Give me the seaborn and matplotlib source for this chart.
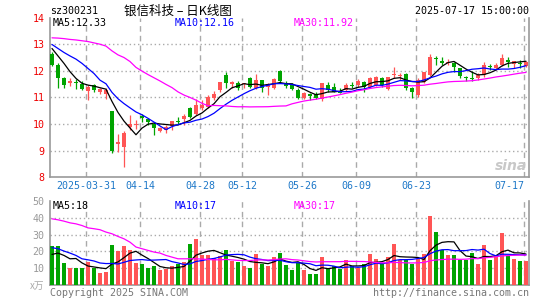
import numpy as np
import pandas as pd
import matplotlib
matplotlib.use("Agg")
import matplotlib.pyplot as plt
import seaborn as sns

# trading days shown on the chart (holidays taken out)
holidays = ["2025-04-04", "2025-05-01", "2025-05-02", "2025-05-05", "2025-06-02"]
days = pd.bdate_range("2025-03-21", "2025-07-17")
days = days[~days.isin(pd.to_datetime(holidays))]

tick_dates = ["2025-03-31", "2025-04-14", "2025-04-28", "2025-05-12",
              "2025-05-26", "2025-06-09", "2025-06-23", "2025-07-17"]
tick_labels = ["2025-03-31", "04-14", "04-28", "05-12", "05-26", "06-09", "06-23", "07-17"]

# daily prices
open_ = [12.65, 12.22, 11.74, 11.55, 11.58, 11.52, 11.25, 11.46, 11.19, 11.12,
         10.49, 9.24, 9.12, 9.89, 9.98, 10.30, 10.19, 10.00, 9.74, 9.78,
         9.94, 10.12, 10.19, 10.59, 10.38, 10.62, 10.65, 10.97, 11.28, 11.86,
         11.52, 11.55, 11.49, 11.74, 11.34, 11.65, 11.40, 11.34, 12.00, 11.56,
         11.49, 11.28, 10.97, 11.12, 11.12, 10.94, 11.46, 11.39, 11.24, 11.28,
         11.47, 11.46, 11.59, 11.40, 11.46, 11.74, 11.32, 11.84, 11.82, 11.87,
         11.34, 11.09, 11.59, 11.84, 12.46, 12.36, 12.28, 12.28, 12.09, 11.76,
         11.74, 11.72, 11.84, 12.19, 12.09, 12.22, 12.40, 12.27, 12.31, 12.19]
high = [12.70, 12.28, 11.78, 11.72, 11.69, 11.60, 11.46, 11.49, 11.36, 11.36,
        10.50, 9.62, 9.74, 10.34, 10.15, 10.38, 10.24, 10.06, 9.90, 9.96,
        10.13, 10.28, 10.39, 10.65, 10.96, 10.90, 11.09, 11.24, 11.59, 11.96,
        11.62, 11.62, 11.55, 11.78, 11.88, 11.65, 11.53, 11.74, 12.05, 11.62,
        11.56, 11.34, 11.22, 11.15, 11.22, 11.53, 11.59, 11.55, 11.34, 11.53,
        11.59, 11.68, 11.62, 11.78, 11.82, 11.78, 11.76, 12.13, 11.90, 11.93,
        11.38, 11.72, 11.96, 12.62, 12.56, 12.53, 12.44, 12.34, 12.12, 11.82,
        11.99, 11.90, 12.34, 12.25, 12.28, 12.65, 12.53, 12.37, 12.40, 12.37]
low = [12.18, 11.34, 11.37, 11.44, 11.30, 11.28, 10.90, 11.22, 11.12, 10.96,
       8.92, 8.94, 8.37, 9.78, 9.82, 10.09, 9.97, 9.59, 9.71, 9.65,
       9.78, 9.99, 9.97, 10.22, 10.34, 10.53, 10.59, 10.90, 11.19, 11.34,
       11.37, 11.28, 11.34, 11.34, 11.32, 11.22, 11.09, 11.32, 11.59, 11.37,
       11.28, 10.94, 10.94, 10.90, 10.94, 10.87, 11.22, 11.19, 11.15, 11.24,
       11.34, 11.40, 11.22, 11.36, 11.44, 11.40, 11.28, 11.72, 11.65, 11.28,
       10.99, 11.03, 11.53, 11.80, 12.21, 12.21, 12.21, 11.96, 11.72, 11.62,
       11.62, 11.65, 11.78, 12.03, 12.03, 12.19, 12.13, 12.09, 12.12, 12.15]
close = [12.22, 11.74, 11.47, 11.60, 11.55, 11.30, 11.40, 11.28, 11.30, 11.28,
         8.99, 9.34, 9.65, 10.01, 10.00, 10.24, 10.07, 9.87, 9.84, 9.90,
         10.12, 10.09, 10.30, 10.28, 10.72, 10.70, 11.00, 11.12, 11.59, 11.53,
         11.58, 11.34, 11.55, 11.40, 11.65, 11.34, 11.49, 11.69, 11.63, 11.44,
         11.32, 10.97, 11.18, 11.07, 10.97, 11.53, 11.28, 11.21, 11.18, 11.46,
         11.43, 11.62, 11.40, 11.72, 11.78, 11.46, 11.76, 11.87, 11.84, 11.34,
         11.19, 11.65, 11.94, 12.53, 12.44, 12.30, 12.34, 12.15, 11.82, 11.72,
         11.71, 11.84, 12.22, 12.15, 12.22, 12.50, 12.32, 12.37, 12.27, 12.34]
# volume in 10k lots
volume = [23.0, 23.0, 13.1, 9.9, 9.9, 9.9, 13.7, 10.3, 7.1, 7.7,
          23.6, 20.0, 23.0, 20.6, 13.1, 12.3, 9.9, 11.1, 8.7, 9.3,
          11.1, 12.3, 13.7, 24.2, 27.5, 17.6, 17.6, 16.0, 17.4, 20.6,
          14.1, 13.7, 11.1, 10.3, 18.2, 12.7, 11.1, 16.6, 19.0, 11.7,
          8.7, 13.1, 8.7, 6.7, 6.3, 16.6, 10.3, 11.1, 9.5, 14.7,
          11.1, 10.3, 12.3, 18.2, 15.6, 13.1, 16.6, 24.2, 14.7, 14.7,
          12.7, 15.6, 18.2, 40.8, 31.3, 21.0, 17.6, 17.6, 15.0, 15.0,
          19.0, 12.3, 23.6, 14.7, 17.6, 30.9, 17.0, 15.6, 14.3, 14.3]

# start of the moving average lines (they use days before the window)
ma5_head = [12.84, 12.56, 12.28, 11.97]
ma10_head = [12.99, 12.84, 12.69, 12.56, 12.44, 12.28, 12.09, 11.90, 11.65]
ma30_head = [13.24, 13.23, 13.21, 13.18, 13.16, 13.13, 13.10, 13.05, 13.00, 12.93,
             12.75, 12.60, 12.50, 12.35, 12.13, 11.99, 11.86, 11.74, 11.62, 11.49,
             11.37, 11.21, 11.09, 11.00, 10.90, 10.78, 10.69, 10.70, 10.69]
vma5_head = [18.2, 19.0, 17.6, 15.6]
vma10_head = [22.2, 21.6, 20.2, 19.0, 17.6, 15.6, 15.0, 14.3, 13.1]
vma30_head = [39.4, 38.8, 38.0, 37.0, 36.4, 35.4, 34.0, 33.5, 32.9, 31.5,
              30.5, 28.9, 27.5, 25.5, 22.6, 21.6, 20.6, 19.6, 19.0, 17.6,
              16.6, 15.6, 15.6, 15.6, 15.6, 15.4, 15.2, 15.0, 15.0]

RED = "#ff5555"
GREEN = "#00a400"
GRID = "#aaaaaa"
FRAME = "#999999"
W, H = 545, 300


def moving(values, n, head):
    ma = pd.Series(values).rolling(n).mean().to_numpy()
    ma[:len(head)] = head
    return ma


sns.set_theme(style="white")
plt.rcParams["font.family"] = ["DejaVu Sans Mono", "Noto Sans CJK SC"]

o = np.array(open_)
c = np.array(close)
x = np.arange(len(c))
colors = np.where(c >= o, RED, GREEN)
tick_pos = np.array([days.get_loc(pd.Timestamp(d)) for d in tick_dates]) - 0.35

fig = plt.figure(figsize=(W / 100, H / 100), dpi=100)
fig.patch.set_facecolor("white")
ax = fig.add_axes([50 / W, 1 - 177.3 / H, 479 / W, 159.7 / H])
axv = fig.add_axes([50 / W, 1 - 285 / H, 479 / W, 84 / H])

# price panel
ax.vlines(x, low, high, colors=colors, lw=0.9, zorder=3)
body = np.maximum(np.abs(c - o), 0.035)
ax.bar(x, body, bottom=np.minimum(o, c), width=0.72, color=colors, linewidth=0, zorder=3)
sns.lineplot(x=x, y=moving(close, 5, ma5_head), ax=ax, color="black", lw=0.9, zorder=4)
sns.lineplot(x=x, y=moving(close, 10, ma10_head), ax=ax, color="#0000ff", lw=0.9, zorder=4)
sns.lineplot(x=x, y=moving(close, 30, ma30_head), ax=ax, color="#ff00ff", lw=0.9, zorder=4)
ax.set_ylim(8, 14)
ax.set_yticks([8, 9, 10, 11, 12, 13, 14])
ax.set_yticklabels(["8", "9", "10", "11", "12", "13", "14"], color="#ee0000", fontsize=7.2)
for yv in [9, 10, 11, 12, 13]:
    ax.axhline(yv, color=GRID, lw=1, ls=(0, (1, 2)), zorder=1)

# volume panel
axv.bar(x, volume, width=0.82, color=colors, linewidth=0, zorder=3)
sns.lineplot(x=x, y=moving(volume, 5, vma5_head), ax=axv, color="black", lw=0.9, zorder=4)
sns.lineplot(x=x, y=moving(volume, 10, vma10_head), ax=axv, color="#0000ff", lw=0.9, zorder=4)
sns.lineplot(x=x, y=moving(volume, 30, vma30_head), ax=axv, color="#ff00ff", lw=0.9, zorder=4)
axv.set_ylim(0, 50)
axv.set_yticks([10, 20, 30, 40, 50])
axv.set_yticklabels(["10", "20", "30", "40", "50"], color="#999999", fontsize=7.2)
for yv in [10, 20, 30, 40]:
    axv.axhline(yv, color=GRID, lw=1, ls=(0, (1, 2)), zorder=1)

for a in (ax, axv):
    a.set_xlim(-0.33, 79.5)
    for t in tick_pos:
        a.axvline(t, color=GRID, lw=1, ls=(0, (4, 3)), zorder=1)
    a.spines["top"].set_visible(False)
    for s in ("left", "right", "bottom"):
        a.spines[s].set_color(FRAME)
        a.spines[s].set_linewidth(1.2)
    a.tick_params(length=0, pad=4)
    a.set_xlabel("")
    a.set_ylabel("")
    a.grid(False)

ax.set_xticks(tick_pos)
ax.set_xticklabels(tick_labels, color="#1e78c8", fontsize=7.2)
ax.tick_params(axis="x", pad=3)
ax.get_xticklabels()[-1].set_horizontalalignment("right")
axv.set_xticks([])


def ftext(px, py, s, **kw):
    fig.text(px / W, 1 - py / H, s, va="center", **kw)


ftext(50, 11, "sz300231", fontsize=7.2, color="black")
ftext(178, 11, "银信科技 – 日K线图", ha="center", fontsize=9,
      family=["Noto Sans CJK SC", "DejaVu Sans"], color="black")
ftext(529, 11, "2025-07-17 15:00:00", ha="right", fontsize=7.2, color="black")

ftext(53, 23.5, "MA5:12.33", fontsize=7.2, color="black")
ftext(175, 23.5, "MA10:12.16", fontsize=7.2, color="#0000ff")
ftext(294, 23.5, "MA30:11.92", fontsize=7.2, color="#ff00ff")
ftext(53, 206, "MA5:18", fontsize=7.2, color="black")
ftext(175, 206, "MA10:17", fontsize=7.2, color="#0000ff")
ftext(294, 206, "MA30:17", fontsize=7.2, color="#ff00ff")

ftext(44, 286, "x万", ha="right", fontsize=7, color="#aaaaaa", style="italic",
      family=["Noto Sans CJK SC", "DejaVu Sans"])
ftext(50, 292.5, "Copyright 2025 SINA.COM", fontsize=7.2, color="#777777")
ftext(529, 292.5, "http://finance.sina.com.cn", ha="right", fontsize=7.2, color="#777777")
ftext(527, 166, "sina", ha="right", fontsize=10, color="#c8c8c8",
      style="italic", weight="bold", family=["DejaVu Sans"])

fig.savefig("out.png", dpi=100, facecolor="white")
